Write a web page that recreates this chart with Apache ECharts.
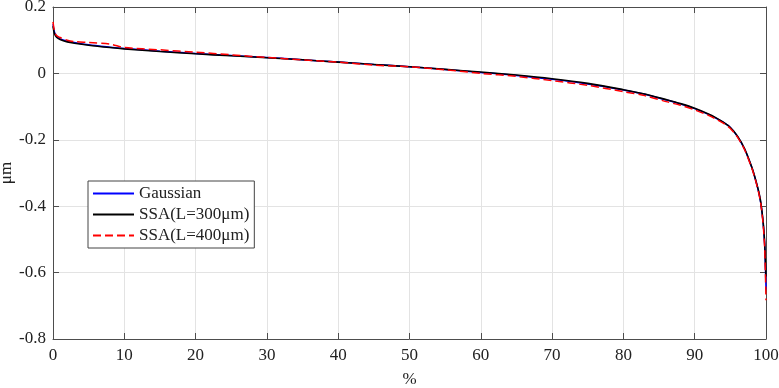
<!DOCTYPE html>
<html>
<head>
<meta charset="utf-8">
<script src="https://cdn.jsdelivr.net/npm/echarts@6/dist/echarts.min.js"></script>
<style>
html,body{margin:0;padding:0;background:#fff;}
#container{width:779px;height:388px;}
</style>
</head>
<body>
<div id="container"></div>
<script>
// percent of profile (x) and heights in um (y)
var pct = [0, 0.2, 0.5, 1, 2, 3, 5, 8, 10, 15, 20, 25, 30, 35, 40, 45, 50, 55, 60, 65, 70, 75, 80, 83, 86, 88, 90, 92, 93, 94, 95, 96, 97, 98, 98.5, 99, 99.3, 99.6, 99.8, 99.9, 100];
var gauss = [0.148, 0.125, 0.112, 0.104, 0.097, 0.093, 0.086, 0.079, 0.075, 0.067, 0.060, 0.054, 0.048, 0.041, 0.034, 0.027, 0.020, 0.012, 0.003, -0.006, -0.018, -0.032, -0.050, -0.063, -0.080, -0.092, -0.106, -0.124, -0.135, -0.147, -0.163, -0.190, -0.228, -0.283, -0.318, -0.360, -0.395, -0.450, -0.510, -0.570, -0.650];
var ssa300 = [0.142, 0.120, 0.109, 0.102, 0.095, 0.091, 0.085, 0.078, 0.074, 0.066, 0.059, 0.053, 0.047, 0.041, 0.034, 0.027, 0.020, 0.012, 0.004, -0.005, -0.016, -0.030, -0.049, -0.062, -0.079, -0.091, -0.105, -0.123, -0.134, -0.147, -0.163, -0.189, -0.227, -0.282, -0.317, -0.358, -0.393, -0.448, -0.505, -0.555, -0.612];
var ssa400 = [0.155, 0.128, 0.114, 0.108, 0.100, 0.096, 0.093, 0.088, 0.078, 0.071, 0.064, 0.056, 0.048, 0.041, 0.034, 0.025, 0.020, 0.011, 0.000, -0.009, -0.022, -0.036, -0.055, -0.067, -0.085, -0.096, -0.110, -0.127, -0.138, -0.150, -0.166, -0.192, -0.230, -0.285, -0.320, -0.362, -0.398, -0.455, -0.520, -0.590, -0.683];
var names = ["Gaussian", "SSA(L=300\u03bcm)", "SSA(L=400\u03bcm)"];

function pairs(xs, ys){
	return xs.map(function(x, i){ return [x, ys[i]]; });
}

var dom = document.getElementById("container");
var myChart = echarts.init(dom);
var font = "Liberation Serif";
var fs = 17;
var axisCol = "#4d4d4d";

var option = {
	backgroundColor: "#fff",
	animation: false,
	grid: {left: 53, right: 13, top: 7, bottom: 49, containLabel: false, outerBoundsMode: "none"},
	legend: {
		orient: "vertical",
		left: 88, top: 181,
		padding: [4, 5, 4, 4],
		itemWidth: 41, itemHeight: 14, itemGap: 4,
		itemStyle: {opacity: 0},
		borderColor: "#444", borderWidth: 1,
		backgroundColor: "#fff",
		textStyle: {fontFamily: font, fontSize: fs, color: "#222", lineHeight: 17},
		data: names
	},
	xAxis: [{
		type: "value", min: 0, max: 100, interval: 10,
		name: "%", nameLocation: "middle", nameGap: 32, nameMoveOverlap: false,
		nameTextStyle: {fontFamily: font, fontSize: fs, color: "#222"},
		axisLine: {onZero: false, lineStyle: {color: axisCol}},
		axisTick: {inside: true, length: 6, lineStyle: {color: axisCol}},
		axisLabel: {fontFamily: font, fontSize: fs, color: "#222", margin: 8},
		splitLine: {show: true, lineStyle: {color: "#e3e3e3"}}
	}, {
		type: "value", min: 0, max: 100, interval: 10, position: "top",
		axisLine: {show: true, onZero: false, lineStyle: {color: axisCol}},
		axisTick: {show: true, inside: true, length: 6, lineStyle: {color: axisCol}},
		axisLabel: {show: false}, splitLine: {show: false}
	}],
	yAxis: [{
		type: "value", min: -0.8, max: 0.2, interval: 0.2,
		name: "\u03bcm", nameLocation: "middle", nameGap: 38, nameRotate: 90, nameMoveOverlap: false,
		nameTextStyle: {fontFamily: font, fontSize: fs, color: "#222"},
		axisLine: {show: true, onZero: false, lineStyle: {color: axisCol}},
		axisTick: {show: true, inside: true, length: 6, lineStyle: {color: axisCol}},
		axisLabel: {fontFamily: font, fontSize: fs, color: "#222", margin: 7,
			formatter: function(v){ return String(Math.round(v*10)/10); }},
		splitLine: {show: true, lineStyle: {color: "#e3e3e3"}}
	}, {
		type: "value", min: -0.8, max: 0.2, interval: 0.2, position: "right",
		axisLine: {show: true, onZero: false, lineStyle: {color: axisCol}},
		axisTick: {show: true, inside: true, length: 6, lineStyle: {color: axisCol}},
		axisLabel: {show: false}, splitLine: {show: false}
	}],
	series: [
		{name: names[0], type: "line", showSymbol: false, symbol: "none", smooth: 0.3,
			lineStyle: {color: "#0000ff", width: 1.5}, itemStyle: {color: "#0000ff"},
			data: pairs(pct, gauss)},
		{name: names[1], type: "line", showSymbol: false, symbol: "none", smooth: 0.3,
			lineStyle: {color: "#000", width: 1.6}, itemStyle: {color: "#000"},
			data: pairs(pct, ssa300)},
		{name: names[2], type: "line", showSymbol: false, symbol: "none", smooth: 0.3,
			lineStyle: {color: "#ff0000", width: 1.5, type: [8, 4]}, itemStyle: {color: "#ff0000"},
			data: pairs(pct, ssa400)}
	]
};
myChart.setOption(option, true);
</script>
</body>
</html>
